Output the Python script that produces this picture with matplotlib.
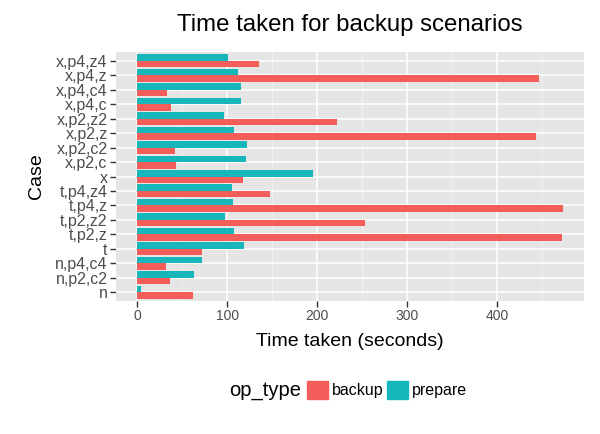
import numpy as np
import matplotlib
matplotlib.use("Agg")
import matplotlib.pyplot as plt
from matplotlib.patches import Patch

# Datos (de abajo hacia arriba)
casos = ["n", "n,p2,c2", "n,p4,c4", "t", "t,p2,z", "t,p2,z2", "t,p4,z", "t,p4,z4",
         "x", "x,p2,c", "x,p2,c2", "x,p2,z", "x,p2,z2", "x,p4,c", "x,p4,c4",
         "x,p4,z", "x,p4,z4"]
backup = [61.4, 35.9, 31.4, 71.4, 471.4, 252.6, 472.6, 147.0,
          117.0, 42.5, 41.4, 442.6, 221.4, 37.0, 33.3, 445.9, 134.8]
prepare = [3.7, 62.6, 71.4, 118.1, 107.0, 97.0, 105.9, 104.8,
           194.8, 120.3, 121.4, 107.0, 95.9, 114.8, 114.8, 111.4, 100.3]
ticks_x = [0, 100, 200, 300, 400]

rojo = "#F35E5A"
verde = "#17B6BA"
plt.rcParams["font.family"] = ["Liberation Sans", "DejaVu Sans"]

fig = plt.figure(figsize=(6, 4.34), dpi=100)
ax = fig.add_axes([116 / 600, 1 - 301 / 434, (584 - 116) / 600, (301 - 52) / 434])
ax.set_facecolor("#E5E5E5")

y = np.arange(len(casos))
alto = 0.45
ax.barh(y - alto / 2, backup, height=alto, color=rojo, zorder=3)
ax.barh(y + alto / 2, prepare, height=alto, color=verde, zorder=3)

# Rejilla estilo ggplot
for v in [50, 150, 250, 350, 450]:
    ax.axvline(v, color="#F2F2F2", lw=0.6, zorder=1)
for v in ticks_x:
    ax.axvline(v, color="white", lw=1.1, zorder=2)
for v in y:
    ax.axhline(v, color="white", lw=1.1, zorder=2)

xmax = max(max(backup), max(prepare))
ax.set_xlim(-0.05 * xmax, 1.05 * xmax)
ax.set_ylim(-0.6, len(casos) - 0.4)
ax.set_xticks(ticks_x)
ax.set_yticks(y)
ax.set_yticklabels(casos)
for s in ax.spines.values():
    s.set_visible(False)
ax.tick_params(axis="both", length=4, width=1, color="#333333",
               labelcolor="#4D4D4D", pad=2)
ax.tick_params(axis="x", labelsize=10)
ax.tick_params(axis="y", labelsize=11.5)

ax.set_xlabel("Time taken (seconds)", fontsize=14, labelpad=7)
ax.set_ylabel("Case", fontsize=14, labelpad=7)
ax.set_title("Time taken for backup scenarios", fontsize=17.3, pad=15)

# Leyenda horizontal con título a la izquierda
fig.text(265 / 600, 1 - 390 / 434, "op_type", fontsize=14.5, ha="center", va="center")
handles = [Patch(color=rojo, label="backup"), Patch(color=verde, label="prepare")]
fig.legend(handles=handles, loc="center left", bbox_to_anchor=(307 / 600, 1 - 390 / 434),
           ncol=2, frameon=False, fontsize=11.5, handlelength=1.3, handleheight=1.3,
           handletextpad=0.25, columnspacing=0.25, borderaxespad=0, borderpad=0)

fig.savefig("out.png", dpi=100)
